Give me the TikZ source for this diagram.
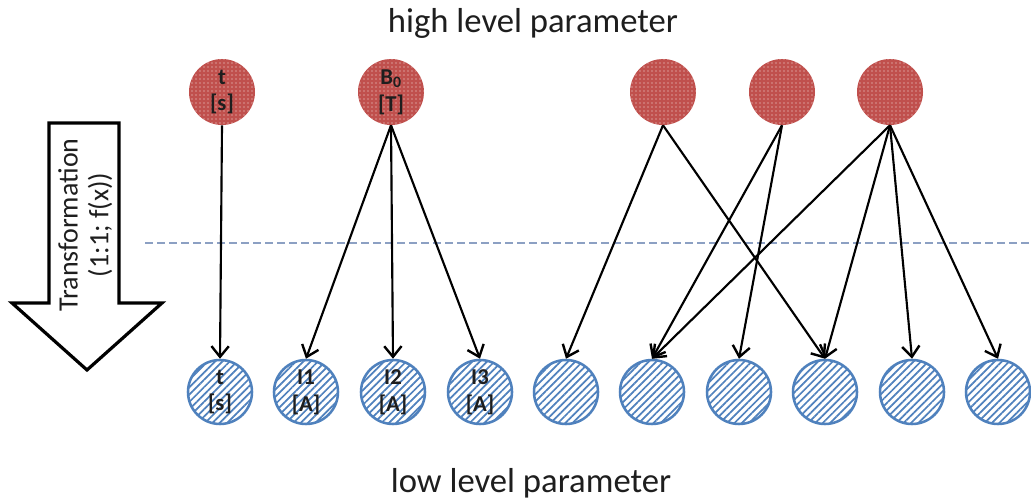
\documentclass[tikz,border=0pt]{standalone}
\usepackage{fontspec}
\setmainfont{Carlito}
\usetikzlibrary{arrows.meta,patterns.meta}
\definecolor{redc}{HTML}{C0504D}
\definecolor{bluec}{HTML}{4F81BD}
\definecolor{dashc}{RGB}{140,160,195}
\definecolor{txt}{RGB}{30,30,30}
\tikzset{
  highnode/.style={circle,minimum size=49.5pt,inner sep=0pt,fill=redc,
    postaction={pattern={Dots[distance=3pt,radius=0.45pt]},pattern color=white!85!redc},
    align=center,text=txt,font=\bfseries\fontsize{17}{20}\selectfont},
  lownode/.style={circle,minimum size=48pt,inner sep=0pt,draw=bluec,line width=1.9pt,fill=white,
    postaction={pattern={Lines[angle=45,distance=3.9pt,line width=1.3pt]},pattern color=bluec},
    align=center,text=txt,font=\bfseries\fontsize{17}{20}\selectfont},
  conn/.style={line width=1.6pt,-{Straight Barb[length=8pt,width=13pt,line width=1.8pt]}},
  bigarrow/.style={draw=black,line width=2.4pt,fill=white,line join=miter},
  label/.style={text=txt,font=\fontsize{26}{30}\selectfont,anchor=base},
  arrowtext/.style={text=txt,font=\fontsize{21}{25}\selectfont,rotate=90}
}
\begin{document}
\begin{tikzpicture}[x=0.75pt,y=-0.75pt]
\useasboundingbox (0,0) rectangle (1031,503);
% dashed separator
\draw[dashc,line width=1pt,dash pattern=on 6pt off 3pt] (145,243) -- (1031,243);
% big transformation arrow
\draw[bigarrow] (49,123) -- (119,123) -- (119,303) -- (162,303) -- (87,370) -- (12,303) -- (49,303) -- cycle;
\node[arrowtext] (tr1) at (68,225) {Transformation};
\node[arrowtext] (tr2) at (100,225) {(1:1; f(x))};
% titles
\node[label] (hl) at (533,33) {high level parameter};
\node[label] (ll) at (531,492) {low level parameter};
% high level nodes
\node[highnode] (h1) at (222,92) {t\\{[s]}};
\node[highnode] (h2) at (391,92) {B\textsubscript{0}\\{[T]}};
\node[highnode] (h3) at (663,92) {};
\node[highnode] (h4) at (782,92) {};
\node[highnode] (h5) at (890,92) {};
% low level nodes
\node[lownode] (l1) at (220,392) {t\\{[s]}};
\node[lownode] (l2) at (306,392) {I1\\{[A]}};
\node[lownode] (l3) at (393,392) {I2\\{[A]}};
\node[lownode] (l4) at (480,392) {I3\\{[A]}};
\node[lownode] (l5) at (566,392) {};
\node[lownode] (l6) at (652,392) {};
\node[lownode] (l7) at (739,392) {};
\node[lownode] (l8) at (825,392) {};
\node[lownode] (l9) at (912,392) {};
\node[lownode] (l10) at (998,392) {};
% connectors
\draw[conn] (h1.south) -- (l1.north);
\draw[conn] (h2.south) -- (l2.north);
\draw[conn] (h2.south) -- (l3.north);
\draw[conn] (h2.south) -- (l4.north);
\draw[conn] (h3.south) -- (l5.north);
\draw[conn] (h3.south) -- (l8.north);
\draw[conn] (h4.south) -- (l6.north);
\draw[conn] (h4.south) -- (l7.north);
\draw[conn] (h5.south) -- (l6.north);
\draw[conn] (h5.south) -- (l8.north);
\draw[conn] (h5.south) -- (l9.north);
\draw[conn] (h5.south) -- (l10.north);
\end{tikzpicture}
\end{document}
